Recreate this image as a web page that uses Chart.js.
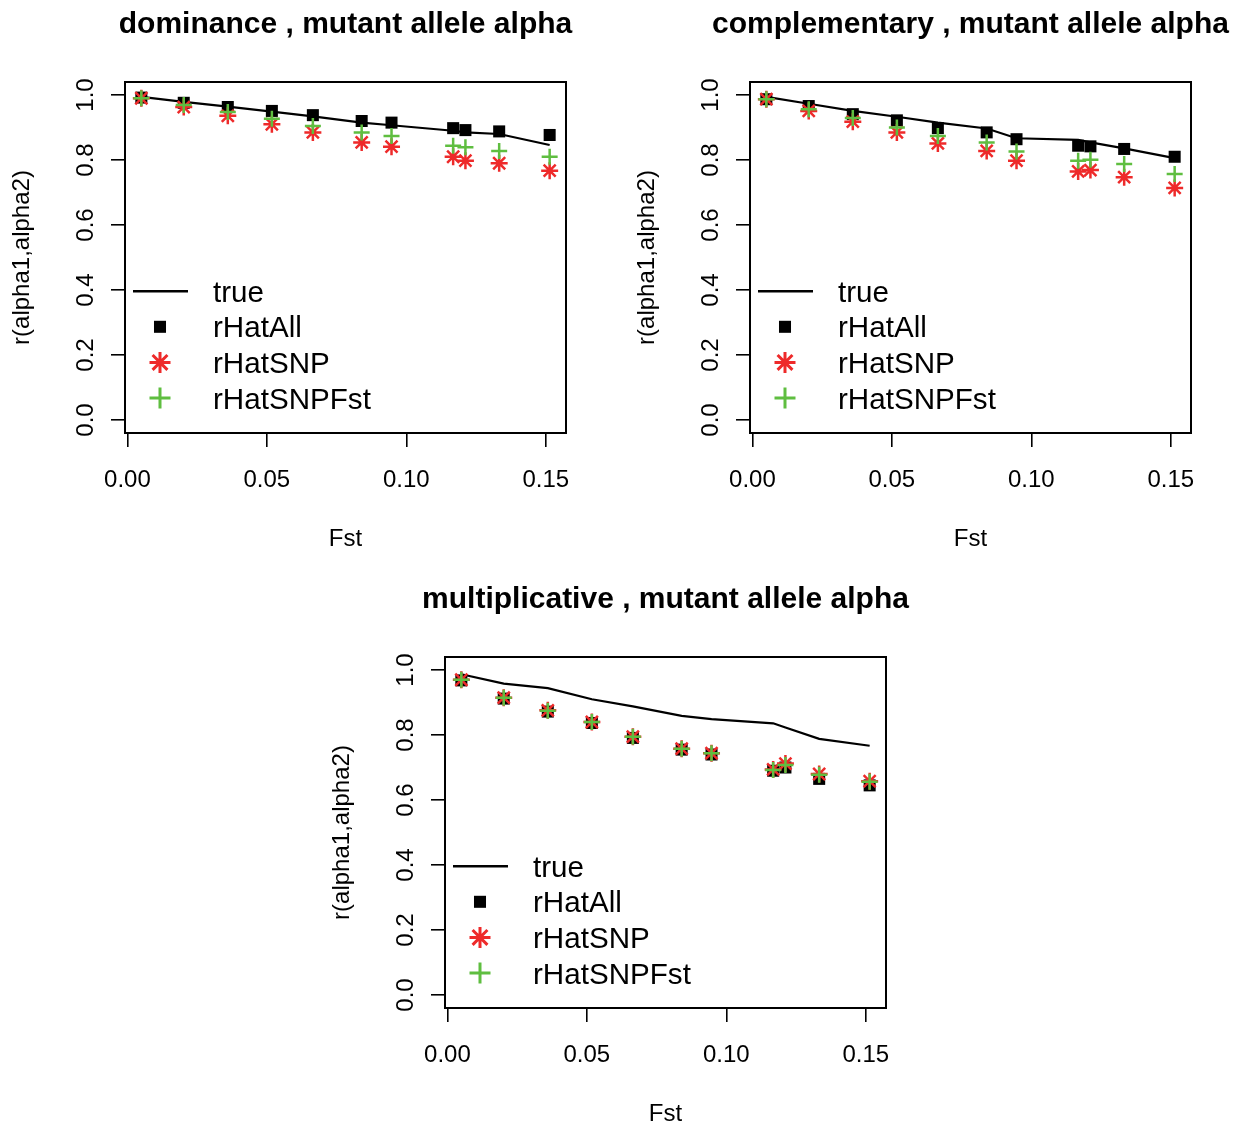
<!DOCTYPE html>
<html>
<head>
<meta charset="utf-8">
<script src="https://cdn.jsdelivr.net/npm/chart.js@4.4.1/dist/chart.umd.min.js"></script>
<style>
  html, body { margin: 0; padding: 0; background: #ffffff; }
  #page { position: relative; width: 1233px; height: 1124px; overflow: hidden; background: #fff; }
  .panel { position: absolute; width: 691px; height: 562px; }
  .panel canvas { display: block; }
</style>
</head>
<body>
<div id="page">
  <div class="panel" style="left:0px; top:0px;"><canvas id="c1" width="691" height="562"></canvas></div>
  <div class="panel" style="left:625px; top:0px;"><canvas id="c2" width="691" height="562"></canvas></div>
  <div class="panel" style="left:320px; top:575px;"><canvas id="c3" width="691" height="562"></canvas></div>
</div>
<script>
// ---- data ----
const fst = [0.0050, 0.0202, 0.0360, 0.0518, 0.0665, 0.0840, 0.0947, 0.1168, 0.1212, 0.1333, 0.1514];

const domTrue   = [0.994, 0.979, 0.964, 0.949, 0.934, 0.915, 0.907, 0.890, 0.885, 0.880, 0.846];
const domAll    = [0.992, 0.976, 0.963, 0.951, 0.938, 0.920, 0.915, 0.898, 0.892, 0.888, 0.877];
const domSNP    = [0.990, 0.963, 0.936, 0.910, 0.885, 0.854, 0.841, 0.810, 0.798, 0.790, 0.767];
const domSNPFst = [0.990, 0.969, 0.948, 0.927, 0.905, 0.885, 0.874, 0.844, 0.839, 0.828, 0.810];

const compTrue   = [0.994, 0.973, 0.951, 0.933, 0.915, 0.897, 0.867, 0.862, 0.854, 0.836, 0.806];
const compAll    = [0.987, 0.966, 0.941, 0.922, 0.898, 0.885, 0.864, 0.844, 0.842, 0.834, 0.810];
const compSNP    = [0.987, 0.951, 0.918, 0.885, 0.851, 0.828, 0.798, 0.765, 0.769, 0.747, 0.714];
const compSNPFst = [0.987, 0.956, 0.929, 0.900, 0.874, 0.854, 0.826, 0.798, 0.801, 0.788, 0.757];

const multTrue   = [0.987, 0.958, 0.944, 0.910, 0.888, 0.859, 0.849, 0.836, 0.823, 0.788, 0.767];
const multAll    = [0.968, 0.912, 0.872, 0.837, 0.791, 0.755, 0.740, 0.690, 0.700, 0.665, 0.645];
const multSNP    = [0.970, 0.915, 0.876, 0.840, 0.795, 0.758, 0.744, 0.694, 0.712, 0.680, 0.658];
const multSNPFst = [0.970, 0.915, 0.875, 0.840, 0.795, 0.758, 0.744, 0.692, 0.708, 0.678, 0.656];

const xTicks = [0, 0.05, 0.10, 0.15];
const xTickLabels = ["0.00", "0.05", "0.10", "0.15"];
const yTicks = [0, 0.2, 0.4, 0.6, 0.8, 1.0];
const yTickLabels = ["0.0", "0.2", "0.4", "0.6", "0.8", "1.0"];

const seriesNames = ["true", "rHatAll", "rHatSNP", "rHatSNPFst"];
const titles = ["dominance , mutant allele alpha", "complementary , mutant allele alpha", "multiplicative , mutant allele alpha"];
const xTitle = "Fst";
const yTitle = "r(alpha1,alpha2)";

// ---- style ----
const FONT = "'Liberation Sans', Arial, Helvetica, sans-serif";
const RED = "#EE2A2A";
const GREEN = "#5FBE40";

function pts(ys) { return fst.map((x, i) => ({ x: x, y: ys[i] })); }

const boxPlugin = {
  id: 'rbox',
  afterDraw(chart) {
    const a = chart.chartArea, ctx = chart.ctx;
    ctx.save();
    ctx.strokeStyle = '#000';
    ctx.lineWidth = 2;
    ctx.strokeRect(a.left, a.top, a.right - a.left, a.bottom - a.top);
    ctx.restore();
  }
};

function drawSym(ctx, style, x, y, r, color, lw) {
  ctx.save();
  ctx.strokeStyle = color; ctx.fillStyle = color; ctx.lineWidth = lw;
  ctx.beginPath();
  if (style === 'rect') {
    const s = r * Math.SQRT1_2;
    ctx.fillRect(x - s, y - s, 2 * s, 2 * s);
  } else if (style === 'cross') {
    ctx.moveTo(x - r, y); ctx.lineTo(x + r, y);
    ctx.moveTo(x, y - r); ctx.lineTo(x, y + r);
    ctx.stroke();
  } else if (style === 'star') {
    ctx.moveTo(x - r, y); ctx.lineTo(x + r, y);
    ctx.moveTo(x, y - r); ctx.lineTo(x, y + r);
    const d = r * Math.SQRT1_2;
    ctx.moveTo(x - d, y - d); ctx.lineTo(x + d, y + d);
    ctx.moveTo(x - d, y + d); ctx.lineTo(x + d, y - d);
    ctx.stroke();
  }
  ctx.restore();
}

const legendPlugin = {
  id: 'rlegend',
  afterDraw(chart) {
    const a = chart.chartArea, ctx = chart.ctx;
    const step = 35.6;
    const n = chart.data.datasets.length;
    ctx.save();
    ctx.font = "29.6px " + FONT;
    ctx.textBaseline = 'middle';
    ctx.textAlign = 'left';
    ctx.fillStyle = '#000';
    chart.data.datasets.forEach((ds, i) => {
      const y = a.bottom - 35 - (n - 1 - i) * step;
      if (ds.showLine) {
        ctx.strokeStyle = ds.borderColor; ctx.lineWidth = 2.5;
        ctx.beginPath(); ctx.moveTo(a.left + 8, y); ctx.lineTo(a.left + 63, y); ctx.stroke();
      } else {
        const r = ds.pointStyle === 'rect' ? 8.5 : 10.5;
        drawSym(ctx, ds.pointStyle, a.left + 35, y, r, ds.pointBorderColor, 3);
      }
      ctx.fillStyle = '#000';
      ctx.fillText(ds.label, a.left + 88, y + 2.5);
    });
    ctx.restore();
  }
};

function makeChart(id, title, tr, all, snp, snpf) {
  const ctx = document.getElementById(id).getContext('2d');
  return new Chart(ctx, {
    type: 'scatter',
    data: {
      datasets: [
        { label: seriesNames[0], data: pts(tr), showLine: true, borderColor: '#000', backgroundColor: '#000',
          borderWidth: 2.2, pointRadius: 0, tension: 0, order: 4 },
        { label: seriesNames[1], data: pts(all), showLine: false, pointStyle: 'rect', pointRadius: 8.5,
          pointBackgroundColor: '#000', pointBorderColor: '#000', pointBorderWidth: 0, order: 3 },
        { label: seriesNames[2], data: pts(snp), showLine: false, pointStyle: 'star', pointRadius: 8.5,
          pointBackgroundColor: RED, pointBorderColor: RED, pointBorderWidth: 2.5, order: 2 },
        { label: seriesNames[3], data: pts(snpf), showLine: false, pointStyle: 'cross', pointRadius: 8,
          pointBackgroundColor: GREEN, pointBorderColor: GREEN, pointBorderWidth: 2.5, order: 1 }
      ]
    },
    options: {
      responsive: false,
      animation: false,
      devicePixelRatio: 1,
      events: [],
      layout: { padding: { left: 0, right: 0, top: 0, bottom: 0 } },
      plugins: {
        legend: { display: false },
        tooltip: { enabled: false },
        title: {
          display: true, text: title, fullSize: true, color: '#000',
          font: { family: FONT, size: 30, weight: 'bold', lineHeight: 1.2 },
          padding: { top: 6.5, bottom: 82 - 6.5 - 30 * 1.2 }
        }
      },
      scales: {
        x: {
          type: 'linear', min: -0.00086, max: 0.15726,
          afterBuildTicks: (s) => { s.ticks = xTicks.map(v => ({ value: v })); },
          afterFit: (s) => { s.height = 562 - 433; },
          border: { display: false },
          grid: { display: true, drawOnChartArea: false, drawTicks: true, tickLength: 14, color: '#000', lineWidth: 1.6 },
          ticks: {
            color: '#000', padding: 18.5, maxRotation: 0, minRotation: 0, autoSkip: false,
            font: { family: FONT, size: 24, lineHeight: 1.2 },
            callback: (v) => { const i = xTicks.indexOf(v); return i >= 0 ? xTickLabels[i] : ''; }
          },
          title: { display: true, text: xTitle, color: '#000', font: { family: FONT, size: 24, lineHeight: 1.2 }, padding: { top: 0, bottom: 8.6 } }
        },
        y: {
          type: 'linear', min: -0.04, max: 1.04,
          afterBuildTicks: (s) => { s.ticks = yTicks.map(v => ({ value: v })); },
          afterFit: (s) => { s.width = 125; },
          border: { display: false },
          grid: { display: true, drawOnChartArea: false, drawTicks: true, tickLength: 14, color: '#000', lineWidth: 1.6 },
          ticks: {
            color: '#000', padding: 7.5, minRotation: 90, maxRotation: 90, crossAlign: 'center', autoSkip: false,
            font: { family: FONT, size: 24, lineHeight: 1.2 },
            callback: (v) => { const i = yTicks.findIndex(t => Math.abs(t - v) < 1e-9); return i >= 0 ? yTickLabels[i] : ''; }
          },
          title: { display: true, text: yTitle, color: '#000', font: { family: FONT, size: 24, lineHeight: 1.2 }, padding: { top: 7.6, bottom: 0 } }
        },
        spacer: {
          type: 'linear', position: 'right', display: true,
          afterFit: (s) => { s.width = 125; },
          border: { display: false },
          grid: { display: false, drawTicks: false },
          ticks: { display: false },
          title: { display: false }
        }
      }
    },
    plugins: [boxPlugin, legendPlugin]
  });
}

makeChart('c1', titles[0], domTrue, domAll, domSNP, domSNPFst);
makeChart('c2', titles[1], compTrue, compAll, compSNP, compSNPFst);
makeChart('c3', titles[2], multTrue, multAll, multSNP, multSNPFst);
</script>
</body>
</html>
